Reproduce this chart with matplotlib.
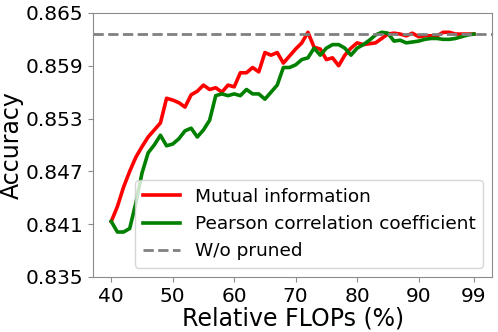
import numpy as np
import matplotlib
matplotlib.use('Agg')
import matplotlib.pyplot as plt

flops = [40, 41, 42, 43, 44, 45, 46, 47, 48, 49,
         50, 51, 52, 53, 54, 55, 56, 57, 58, 59,
         60, 61, 62, 63, 64, 65, 66, 67, 68, 69,
         70, 71, 72, 73, 74, 75, 76, 77, 78, 79,
         80, 81, 82, 83, 84, 85, 86, 87, 88, 89,
         90, 91, 92, 93, 94, 95, 96, 97, 98, 99]

mutual_info = [0.8413, 0.8430, 0.8452, 0.8470, 0.8486, 0.8498, 0.8509, 0.8517, 0.8525, 0.8553,
               0.8551, 0.8548, 0.8543, 0.8557, 0.8561, 0.8568, 0.8563, 0.8565, 0.8560, 0.8568,
               0.8566, 0.8582, 0.8582, 0.8588, 0.8583, 0.8605, 0.8602, 0.8605, 0.8593, 0.8601,
               0.8609, 0.8616, 0.8628, 0.8611, 0.8609, 0.8597, 0.8599, 0.8590, 0.8602, 0.8610,
               0.8616, 0.8614, 0.8615, 0.8616, 0.8621, 0.8626, 0.8627, 0.8626, 0.8624, 0.8627,
               0.8623, 0.8624, 0.8624, 0.8624, 0.8628, 0.8628, 0.8626, 0.8626, 0.8626, 0.8626]

pearson = [0.8413, 0.8401, 0.8401, 0.8405, 0.8434, 0.8468, 0.8491, 0.8500, 0.8511, 0.8499,
           0.8501, 0.8507, 0.8516, 0.8519, 0.8509, 0.8517, 0.8528, 0.8556, 0.8558, 0.8556,
           0.8558, 0.8556, 0.8563, 0.8558, 0.8558, 0.8552, 0.8560, 0.8568, 0.8588, 0.8588,
           0.8591, 0.8597, 0.8599, 0.8610, 0.8602, 0.8610, 0.8614, 0.8614, 0.8610, 0.8602,
           0.8610, 0.8614, 0.8619, 0.8625, 0.8628, 0.8627, 0.8618, 0.8619, 0.8616, 0.8617,
           0.8618, 0.8620, 0.8621, 0.8621, 0.8620, 0.8620, 0.8621, 0.8623, 0.8625, 0.8626]

baseline = 0.8626

xticks = [40, 50, 60, 70, 80, 90, 99]
yticks = [0.835, 0.841, 0.847, 0.853, 0.859, 0.865]

fig = plt.figure(figsize=(4.98, 3.32), dpi=100)
ax = fig.add_axes([0.187, 0.166, 0.801, 0.795])

ax.plot(flops, mutual_info, color='red', lw=2.6, label='Mutual information')
ax.plot(flops, pearson, color='green', lw=2.6, label='Pearson correlation coefficient')
ax.axhline(baseline, color='gray', ls='--', lw=2, label='W/o pruned')

ax.set_ylim(0.835, 0.865)
ax.set_xticks(xticks)
ax.set_yticks(yticks)
ax.set_yticklabels(['%.3f' % v for v in yticks])
ax.tick_params(labelsize=14.5, color='0.55')
for s in ax.spines.values():
    s.set_color('0.55')

ax.set_xlabel('Relative FLOPs (%)', fontsize=17, labelpad=1)
ax.set_ylabel('Accuracy', fontsize=17, labelpad=1)
ax.legend(loc='lower right', fontsize=13.3, handlelength=2.0)

fig.savefig('out.png', dpi=100)
